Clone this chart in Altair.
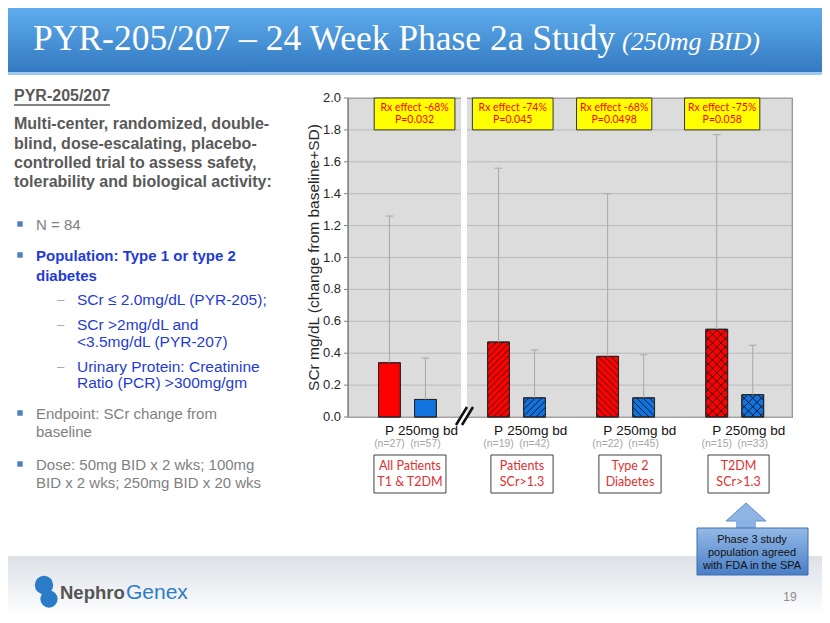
import altair as alt
import pandas as pd

# ---------------- chart values ----------------
group_labels = [["All Patients", "T1 & T2DM"], ["Patients", "SCr>1.3"],
                ["Type 2", "Diabetes"], ["T2DM", "SCr>1.3"]]
placebo_mean = [0.34, 0.47, 0.38, 0.55]
placebo_mean_plus_sd = [1.26, 1.56, 1.40, 1.77]
drug_mean = [0.11, 0.12, 0.12, 0.14]
drug_mean_plus_sd = [0.37, 0.42, 0.39, 0.45]
n_placebo = ["(n=27)", "(n=19)", "(n=22)", "(n=15)"]
n_drug = ["(n=57)", "(n=42)", "(n=45)", "(n=33)"]
rx_effect = ["Rx effect -68%", "Rx effect -74%", "Rx effect -68%", "Rx effect -75%"]
p_values = ["P=0.032", "P=0.045", "P=0.0498", "P=0.058"]
arm_labels = ["P", "250mg bd"]
hatch_kinds = ["none", "/", "\\", "x"]
y_ticks = [0.0, 0.2, 0.4, 0.6, 0.8, 1.0, 1.2, 1.4, 1.6, 1.8, 2.0]
y_tick_labels = ["0.0", "0.2", "0.4", "0.6", "0.8", "1.0", "1.2", "1.4", "1.6", "1.8", "2.0"]
y_title = "SCr mg/dL (change from baseline+SD)"

title_main = "PYR-205/207 \u2013 24 Week Phase 2a Study"
title_sub = "(250mg BID)"
heading = "PYR-205/207"
intro_lines = ["Multi-center, randomized, double-", "blind, dose-escalating, placebo-",
               "controlled trial to assess safety,", "tolerability and biological activity:"]
bullet_n = ["N = 84"]
bullet_pop = ["Population: Type 1 or type 2", "diabetes"]
sub_bullets = [["SCr \u2264 2.0mg/dL (PYR-205);"], ["SCr >2mg/dL and", "<3.5mg/dL (PYR-207)"],
               ["Urinary Protein: Creatinine", "Ratio (PCR)  >300mg/gm"]]
bullet_end = ["Endpoint: SCr change from", "baseline"]
bullet_dose = ["Dose: 50mg BID x 2 wks; 100mg", "BID x 2 wks; 250mg BID x 20 wks"]
callout_lines = ["Phase 3 study", "population agreed", "with FDA in the SPA"]
logo_parts = ["Nephro", "Genex"]
page_number = "19"

# ---------------- layout ----------------
W, H = 444, 319
XMAX = 4.07
PXX = W / XMAX
PXY = H / 2.0
RED_OFF = (0.28, 0.48)
BLUE_OFF = (0.61, 0.81)
RED, BLUE = "#ff0000", "#1173e0"


def px(X):
    return X - 348


def py(Y):
    return Y - 98


xs = alt.Scale(domain=[0, XMAX], nice=False, zero=False)
ys = alt.Scale(domain=[0, 2], nice=False, zero=True)
one = pd.DataFrame({"a": [0]})

# ---------------- y axis (grid, ticks, labels) drawn through the y scale ----------------
ytk = pd.DataFrame({"v": y_ticks, "lab": y_tick_labels})
grid = alt.Chart(ytk).mark_rule(color="#b9b9b9", strokeWidth=1).encode(
    y=alt.Y("v:Q", scale=ys, axis=None), x=alt.value(0), x2=alt.value(W))
ticks = alt.Chart(ytk).mark_rule(color="#808080", strokeWidth=1).encode(
    y=alt.Y("v:Q", scale=ys, axis=None), x=alt.value(-4), x2=alt.value(0))
tick_labels = alt.Chart(ytk).mark_text(font="Liberation Sans", fontSize=13, color="#262626",
                                       align="right", baseline="middle").encode(
    y=alt.Y("v:Q", scale=ys, axis=None), x=alt.value(-7), text="lab:N")
y_dom = alt.Chart(one).mark_rule(color="#808080", strokeWidth=1.2).encode(
    x=alt.value(0), y=alt.value(0), y2=alt.value(H))
y_ttl = alt.Chart(one).mark_text(font="Liberation Sans", fontSize=15.5, color="#262626",
                                 angle=270, align="center", baseline="middle").encode(
    x=alt.value(-34), y=alt.value(H / 2), text=alt.value(y_title))

# bars
bar_rows = []
for i in range(4):
    bar_rows.append(dict(x0=i + RED_OFF[0], x1=i + RED_OFF[1], base=0.0, mean=placebo_mean[i],
                         top=placebo_mean_plus_sd[i], c=RED, k=hatch_kinds[i]))
    bar_rows.append(dict(x0=i + BLUE_OFF[0], x1=i + BLUE_OFF[1], base=0.0, mean=drug_mean[i],
                         top=drug_mean_plus_sd[i], c=BLUE, k=hatch_kinds[i]))
bars_df = pd.DataFrame(bar_rows)
bars_df["xc"] = (bars_df.x0 + bars_df.x1) / 2
bars_df["cl"] = bars_df.xc - 0.035
bars_df["cr"] = bars_df.xc + 0.035


def hatch_segments(x0, x1, h, kind, step):
    w = (x1 - x0) * PXX
    hp = h * PXY
    segs = []
    dirs = [] if kind == "none" else (["/"] if kind == "/" else (["\\"] if kind == "\\" else ["/", "\\"]))
    for d in dirs:
        if d == "/":
            c = -w + step / 2
            while c < hp:
                a, b = max(0, -c), min(w, hp - c)
                if b > a:
                    segs.append((a, a + c, b, b + c))
                c += step
        else:
            c = step / 2
            while c < w + hp:
                a, b = max(0, c - hp), min(w, c)
                if b > a:
                    segs.append((a, c - a, b, c - b))
                c += step
    return [dict(hx=x0 + a / PXX, hy=b_ / PXY, hx2=x0 + c_ / PXX, hy2=d_ / PXY) for a, b_, c_, d_ in segs]


hatch_rows = []
for r in bar_rows:
    step = 8.5 if r["k"] == "x" else 6.5
    hatch_rows += hatch_segments(r["x0"], r["x1"], r["mean"], r["k"], step)
hatch_df = pd.DataFrame(hatch_rows)

base = alt.Chart(bars_df)
bars = base.mark_rect(stroke="#262626", strokeWidth=1).encode(
    x=alt.X("x0:Q", scale=xs, axis=None), x2="x1:Q",
    y=alt.Y("base:Q", scale=ys, axis=None), y2="mean:Q",
    fill=alt.Fill("c:N", scale=None),
)
hatch = alt.Chart(hatch_df).mark_rule(color="#111111", strokeWidth=0.9).encode(
    x=alt.X("hx:Q", scale=xs, axis=None), x2="hx2:Q",
    y=alt.Y("hy:Q", scale=ys, axis=None), y2="hy2:Q")
bar_outline = base.mark_rect(stroke="#262626", strokeWidth=1, fill=None).encode(
    x=alt.X("x0:Q", scale=xs, axis=None), x2="x1:Q",
    y=alt.Y("base:Q", scale=ys, axis=None), y2="mean:Q")
err = base.mark_rule(color="#a8a8a8", strokeWidth=1).encode(
    x=alt.X("xc:Q", scale=xs, axis=None), y=alt.Y("mean:Q", scale=ys, axis=None), y2="top:Q")
caps = base.mark_rule(color="#a8a8a8", strokeWidth=1).encode(
    x=alt.X("cl:Q", scale=xs, axis=None), x2="cr:Q", y=alt.Y("top:Q", scale=ys, axis=None))

# yellow effect boxes
box_centers = [0.61, 1.51, 2.44, 3.43]
box_half = [0.37, 0.37, 0.345, 0.345]
ybox = pd.DataFrame({"l": [c - h for c, h in zip(box_centers, box_half)],
                     "r": [c + h for c, h in zip(box_centers, box_half)],
                     "c": box_centers, "t1": rx_effect, "t2": p_values,
                     "ya": [2.0] * 4, "yb": [1.8] * 4})
yrect = alt.Chart(ybox).mark_rect(fill="#ffff00", stroke="#333333", strokeWidth=1).encode(
    x=alt.X("l:Q", scale=xs, axis=None), x2="r:Q",
    y=alt.Y("ya:Q", scale=ys, axis=None), y2="yb:Q")
ytext1 = alt.Chart(ybox).mark_text(font="Lato", fontSize=10.5, color="#ff0000").encode(
    x=alt.X("c:Q", scale=xs, axis=None), y=alt.value(py(108)), text="t1:N")
ytext2 = alt.Chart(ybox).mark_text(font="Lato", fontSize=10.5, color="#ff0000").encode(
    x=alt.X("c:Q", scale=xs, axis=None), y=alt.value(py(120)), text="t2:N")

# x labels under groups
red_rows = bars_df.iloc[0::2].reset_index(drop=True)
blue_rows = bars_df.iloc[1::2].reset_index(drop=True)
red_rows["arm"] = arm_labels[0]
red_rows["n"] = n_placebo
blue_rows["arm"] = arm_labels[1]
blue_rows["n"] = n_drug
blue_rows["xl"] = blue_rows.x0 - 16.5 / PXX
p_txt = alt.Chart(red_rows).mark_text(font="Liberation Sans", fontSize=13.5, color="#111111").encode(
    x=alt.X("xc:Q", scale=xs, axis=None), y=alt.value(py(431)), text="arm:N")
d_txt = alt.Chart(blue_rows).mark_text(font="Liberation Sans", fontSize=13.5, color="#111111",
                                       align="left").encode(
    x=alt.X("xl:Q", scale=xs, axis=None), y=alt.value(py(431)), text="arm:N")
n_txt1 = alt.Chart(red_rows).mark_text(font="Liberation Sans", fontSize=10.5, color="#a6a6a6").encode(
    x=alt.X("xc:Q", scale=xs, axis=None), y=alt.value(py(444)), text="n:N")
n_txt2 = alt.Chart(blue_rows).mark_text(font="Liberation Sans", fontSize=10.5, color="#a6a6a6").encode(
    x=alt.X("xc:Q", scale=xs, axis=None), y=alt.value(py(444)), text="n:N")

# group label boxes
lab_centers = [0.568, 1.595, 2.585, 3.58]
lab_half = [0.33, 0.285, 0.285, 0.28]
lab = pd.DataFrame({"l": [c - h for c, h in zip(lab_centers, lab_half)],
                    "r": [c + h for c, h in zip(lab_centers, lab_half)],
                    "c": lab_centers, "t1": [g[0] for g in group_labels],
                    "t2": [g[1] for g in group_labels]})
lab_rect = alt.Chart(lab).mark_rect(fill="white", stroke="#404040", strokeWidth=1).encode(
    x=alt.X("l:Q", scale=xs, axis=None), x2="r:Q", y=alt.value(py(455)), y2=alt.value(py(493)))
lab_t1 = alt.Chart(lab).mark_text(font="Lato", fontSize=12.5, color="#e03030").encode(
    x=alt.X("c:Q", scale=xs, axis=None), y=alt.value(py(466)), text="t1:N")
lab_t2 = alt.Chart(lab).mark_text(font="Lato", fontSize=12.5, color="#e03030").encode(
    x=alt.X("c:Q", scale=xs, axis=None), y=alt.value(py(482)), text="t2:N")


# ---------------- slide decoration (pixel positioned) ----------------
def rect_px(x0, y0, x1, y1, **kw):
    return alt.Chart(one).mark_rect(**kw).encode(
        x=alt.value(px(x0)), x2=alt.value(px(x1)), y=alt.value(py(y0)), y2=alt.value(py(y1)))


def rule_px(x0, y0, x1, y1, **kw):
    return alt.Chart(one).mark_rule(**kw).encode(
        x=alt.value(px(x0)), x2=alt.value(px(x1)), y=alt.value(py(y0)), y2=alt.value(py(y1)))


def text_px(X, Y, s, **kw):
    return alt.Chart(one).mark_text(**kw).encode(
        x=alt.value(px(X)), y=alt.value(py(Y)), text=alt.value(s))


def vgrad(stops):
    return alt.Gradient(gradient="linear", x1=0, y1=0, x2=0, y2=1,
                        stops=[alt.GradientStop(color=c, offset=o) for o, c in stops])


decor = []
# axis break
decor.append(rect_px(461, 96, 467, 418, fill="white"))
decor.append(rule_px(456, 425, 467, 407, color="#111111", strokeWidth=2.5))
decor.append(rule_px(462, 425, 473, 407, color="#111111", strokeWidth=2.5))

header = [
    rect_px(8, 8, 822, 72, fill=vgrad([(0, "#5eadee"), (1, "#3479c0")])),
    rect_px(8, 72, 822, 75, fill="#9dcbf0"),
    rect_px(8, 556, 822, 615, fill=vgrad([(0, "#dde1e6"), (0.55, "#eef0f3"), (1, "#ffffff")])),
]

texts = []
texts.append(text_px(33, 50, title_main, font="Liberation Serif", fontSize=35.5, color="white",
                     align="left", baseline="alphabetic"))
texts.append(text_px(622, 50, title_sub, font="Liberation Serif", fontSize=26, fontStyle="italic",
                     color="white", align="left", baseline="alphabetic"))

GRAY_B, GRAY, BLUE_T = "#595959", "#7f7f7f", "#1f3bd6"
lt = dict(font="Liberation Sans", align="left", baseline="middle")
texts.append(text_px(14, 96, heading, fontSize=16, fontWeight="bold", color=GRAY_B, **lt))
texts.append(rule_px(14, 105, 110, 105, color=GRAY_B, strokeWidth=1.3))
for y, s in zip([124, 144, 163, 182], intro_lines):
    texts.append(text_px(14, y, s, fontSize=16, fontWeight="bold", color=GRAY_B, **lt))
texts.append(text_px(36, 225, bullet_n[0], fontSize=15, color=GRAY, **lt))
for y, s in zip([256, 276], bullet_pop):
    texts.append(text_px(36, y, s, fontSize=15, fontWeight="bold", color=BLUE_T, **lt))
sub_y = [[300], [325, 342], [367, 383]]
for ys_, ss in zip(sub_y, sub_bullets):
    texts.append(text_px(57, ys_[0], "\u2013", fontSize=13, color="#8fa8c8", **lt))
    for y, s in zip(ys_, ss):
        texts.append(text_px(77, y, s, fontSize=15.5, color=BLUE_T, **lt))
for y, s in zip([414, 432], bullet_end):
    texts.append(text_px(36, y, s, fontSize=15, color=GRAY, **lt))
for y, s in zip([465, 483], bullet_dose):
    texts.append(text_px(36, y, s, fontSize=15, color=GRAY, **lt))
for y in [224, 255, 413, 464]:
    texts.append(alt.Chart(one).mark_square(size=30, color="#4f81bd", opacity=1).encode(
        x=alt.value(px(20)), y=alt.value(py(y))))

# callout arrow
ARROW = "M-1,0.45L0,-0.45L1,0.45Z"
texts.append(alt.Chart(one).mark_point(shape=ARROW, size=1600, filled=True, fill="#8fb5e4",
                                       stroke="#5f8fcf", strokeWidth=1, opacity=1).encode(
    x=alt.value(px(746)), y=alt.value(py(512))))
texts.append(rect_px(736, 520, 756, 530, fill="#8ab2e2"))
texts.append(rect_px(697, 528, 808, 575, fill=vgrad([(0, "#93b9e7"), (1, "#4a7fc6")]),
                     stroke="#3d6eb0", strokeWidth=1))
for y, s in zip([540, 553, 566], callout_lines):
    texts.append(text_px(752, y, s, font="Liberation Sans", fontSize=11, color="#111111",
                         align="center", baseline="middle"))

# logo + page number
for (X, Y, S) in [(44, 585, 340), (49, 599, 300)]:
    texts.append(alt.Chart(one).mark_circle(color="#2a7cc7", opacity=1).encode(
        x=alt.value(px(X)), y=alt.value(py(Y)), size=alt.value(S)))
texts.append(text_px(60, 593, logo_parts[0], font="Liberation Sans", fontSize=18.5, fontWeight="bold",
                     color="#555555", align="left", baseline="middle"))
texts.append(text_px(126, 593, logo_parts[1], font="Liberation Sans", fontSize=21,
                     color="#2a7cc7", align="left", baseline="middle"))
texts.append(text_px(790, 597, page_number, font="Liberation Sans", fontSize=12,
                     color="#8c8c8c", align="center", baseline="middle"))

chart = alt.layer(
    *header,
    grid, bars, hatch, bar_outline, err, caps, *decor, y_dom, ticks, tick_labels, y_ttl,
    yrect, ytext1, ytext2, p_txt, d_txt, n_txt1, n_txt2, lab_rect, lab_t1, lab_t2,
    *texts,
).properties(
    width=W, height=H,
    padding={"left": 340, "top": 90, "right": 30, "bottom": 198},
    autosize=alt.AutoSizeParams(type="none"),
    background="white",
).configure_view(fill="#dcdcdc", stroke="#8c8c8c", strokeWidth=1.2)

chart.save("out.html", embed_options={"renderer": "svg", "actions": False})
